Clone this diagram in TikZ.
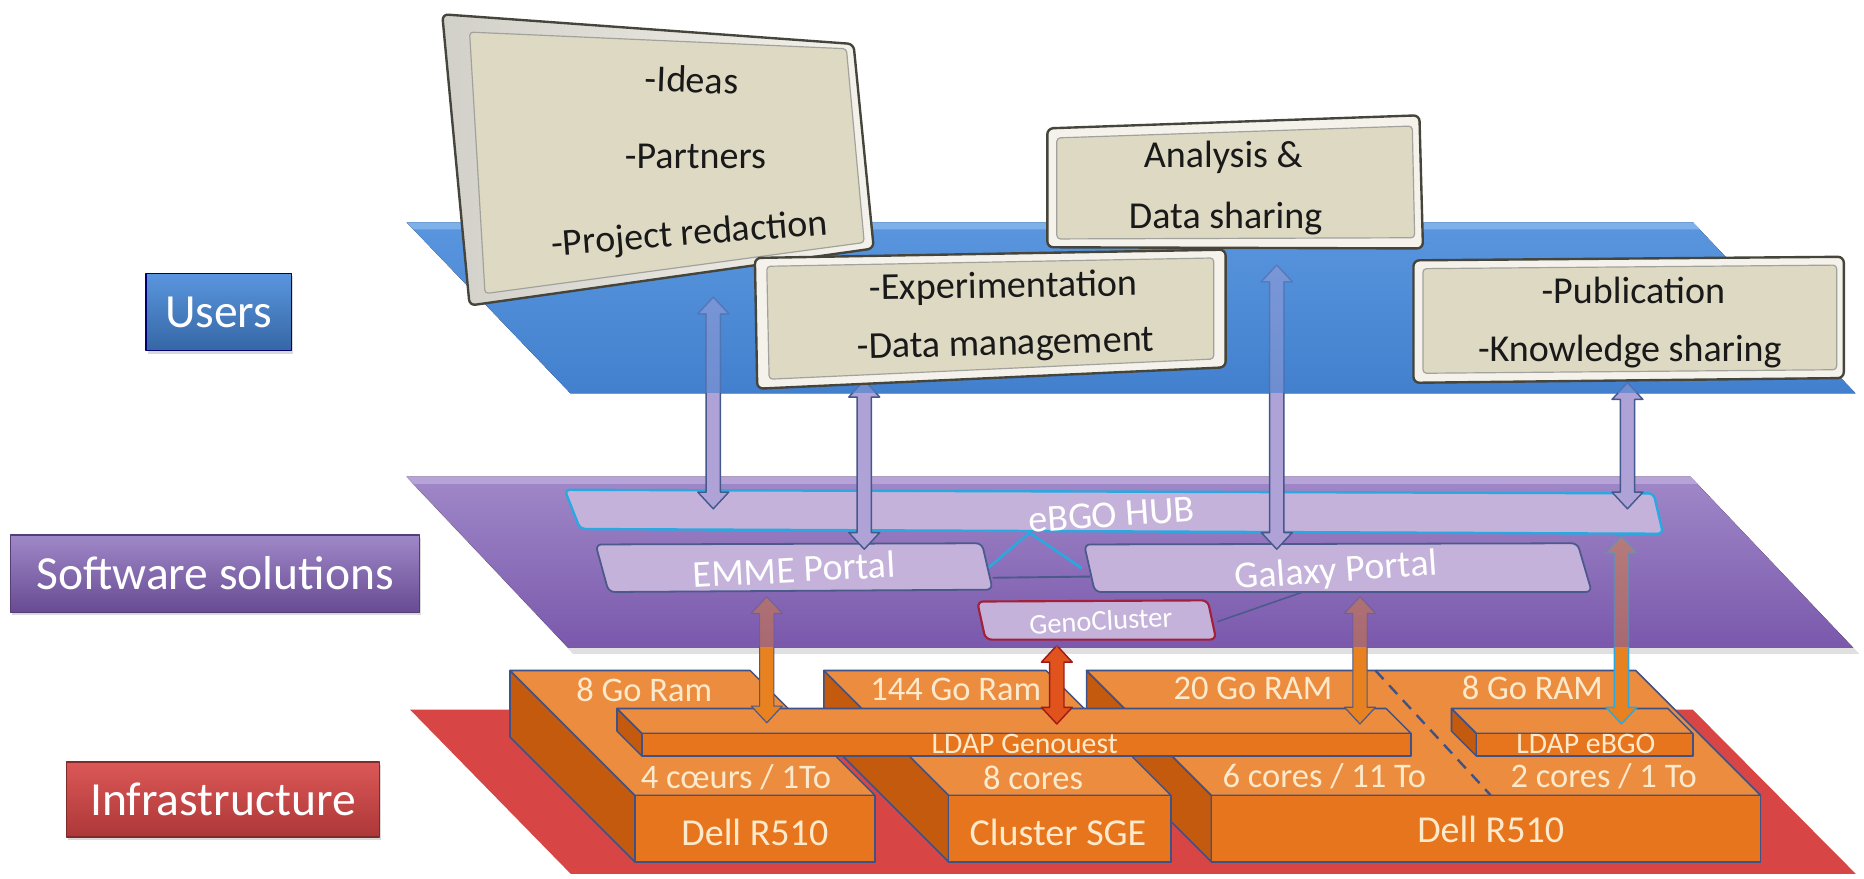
\documentclass[tikz,border=0pt]{standalone}
\usepackage{fontspec}
\setmainfont{Carlito}
\usetikzlibrary{calc,shadows}
\newcommand{\setfs}[1]{\fontsize{#1}{#1}\selectfont}

\definecolor{planeblueT}{HTML}{5A96DE}
\definecolor{planeblueB}{HTML}{4280CE}
\definecolor{planebluelip}{HTML}{7EB0EA}
\definecolor{planepurT}{HTML}{9F88C8}
\definecolor{planepurB}{HTML}{7A58AC}
\definecolor{planepurlip}{HTML}{B7A3D8}
\definecolor{planered}{HTML}{D84545}
\definecolor{blocktopc}{HTML}{EC8C3E}
\definecolor{blockfrontc}{HTML}{E7751D}
\definecolor{blocksidec}{HTML}{C45A0E}
\definecolor{blockedgec}{HTML}{3E5287}
\definecolor{blocktextc}{HTML}{FDE9CB}
\definecolor{lavfill}{HTML}{C4B2DB}
\definecolor{portaledge}{HTML}{4B5A8B}
\definecolor{hubcyan}{HTML}{2AA8E0}
\definecolor{genored}{HTML}{A3203A}
\definecolor{arrowlav}{HTML}{AEA2D6}
\definecolor{arrowedge}{HTML}{44588C}
\definecolor{infraorange}{HTML}{E8811F}
\definecolor{genoarrow}{HTML}{E0531C}
\definecolor{genoarrowedge}{HTML}{9E1B1B}
\definecolor{boxbeige}{HTML}{DDD9C3}
\definecolor{boxrim}{HTML}{F4F2EA}
\definecolor{boxedge}{HTML}{45453C}

\tikzset{
  blockline/.style={draw=blockedgec, line width=1.3},
  sideface/.style={fill=blocksidec, blockline},
  topface/.style={fill=blocktopc, blockline},
  frontface/.style={fill=blockfrontc, blockline},
  blocklabel/.style={text=blocktextc, font=\setfs{29}, inner sep=0},
  serverlabel/.style={text=blocktextc, font=\setfs{32}, inner sep=0},
  ldaplabel/.style={text=blocktextc, font=\setfs{25}, inner sep=0},
  infarrow/.style={fill=infraorange, draw=portaledge, line width=1},
  genoarrowstyle/.style={fill=genoarrow, draw=genoarrowedge, line width=1.2},
  hubarrow/.style={fill=infraorange, draw=hubcyan, line width=1.2},
  toparrow/.style={fill=arrowlav, draw=arrowedge, line width=1.2},
  faded/.style={opacity=0.42},
  hubbox/.style={fill=lavfill, draw=hubcyan, line width=2, rounded corners=4},
  portalbox/.style={fill=lavfill, draw=portaledge, line width=1.5, rounded corners=5},
  genobox/.style={fill=lavfill, draw=genored, line width=1.8, rounded corners=5},
  softlabel/.style={text=white, font=\setfs{32}, inner sep=0},
  beigeouter/.style={draw=boxedge, line width=2, rounded corners=5},
  beigeinner/.style={fill=boxbeige, draw=boxedge!50, line width=1, rounded corners=3},
  beigetext/.style={text=black!90, font=\setfs{32}, inner sep=0},
  layerlabel/.style={text=white, font=\setfs{40}, line width=1, inner sep=0,
    drop shadow={opacity=0.3, shadow xshift=1.5pt, shadow yshift=-2.5pt}},
}

% oblique server block: front face from x=#1 to x=#2
\newcommand{\infrablock}[2]{%
  \path[sideface] (#1-105,564) -- (#1,669) -- (#1,725) -- (#1-105,620) -- cycle;
  \path[topface] (#1-105,564) -- (#2-105,564) -- (#2,669) -- (#1,669) -- cycle;
  \path[frontface] (#1,669) rectangle (#2,725);}

% thin directory bar lying on the servers
\newcommand{\ldapbar}[2]{%
  \path[sideface] (#1-21,596) -- (#1,617) -- (#1,636) -- (#1-21,615) -- cycle;
  \path[topface] (#1-21,596) -- (#2-21,596) -- (#2,617) -- (#1,617) -- cycle;
  \path[frontface] (#1,617) rectangle (#2,636);}

% vertical double-headed block arrow between two named points
\newcommand{\vertarrow}[3][]{%
  \path[#1] (#2) -- ($(#2)+(13,14)$) -- ($(#2)+(6,14)$) -- ($(#3)+(6,-14)$)
    -- ($(#3)+(13,-14)$) -- (#3) -- ($(#3)+(-13,-14)$) -- ($(#3)+(-6,-14)$)
    -- ($(#2)+(-6,14)$) -- ($(#2)+(-13,14)$) -- cycle;}

\begin{document}
\begin{tikzpicture}[x=1pt,y=-1pt,line join=round]
\useasboundingbox (0,0) rectangle (1568,739);

% ---------------- infrastructure layer ----------------
\fill[planered] (345,597) -- (1424,597) -- (1561,735) -- (480,735) -- cycle;
\infrablock{1019}{1481}
\draw[blockedgec, line width=2, dash pattern=on 10pt off 7pt] (1157,564) -- (1254,669);
\infrablock{798}{985}
\infrablock{534}{736}
\ldapbar{1242}{1424}
\ldapbar{540}{1187}

\node[blocklabel] (ram1) at (542,580) {8 Go Ram};
\node[blocklabel] (ram2) at (804,580) {144 Go Ram};
\node[blocklabel] (ram3) at (1054,579) {20 Go RAM};
\node[blocklabel] (ram4) at (1289,579) {8 Go RAM};
\node[blocklabel] (cpu1) at (619,654) {4 cœurs / 1To};
\node[blocklabel] (cpu2) at (869,654) {8 cores};
\node[blocklabel] (cpu3) at (1114,653) {6 cores / 11 To};
\node[blocklabel] (cpu4) at (1349,653) {2 cores / 1 To};
\node[serverlabel] (srv1) at (635,700) {Dell R510};
\node[serverlabel] (srv2) at (890,700) {Cluster SGE};
\node[serverlabel] (srv3) at (1254,698) {Dell R510};
\node[ldaplabel] (ldapg) at (862,626) {LDAP Genouest};
\node[ldaplabel] (ldape) at (1334,626) {LDAP eBGO};

% ---------------- software layer ----------------
\fill[black, opacity=0.12] (345,405) -- (1426,405) -- (1564,550) -- (482,550) -- cycle;
\fill[top color=planepurT, bottom color=planepurB] (342,401) -- (1422,401) -- (1559,545) -- (478,545) -- cycle;
\fill[planepurlip] (342,401) -- (1422,401) -- (1428,407) -- (348,407) -- cycle;

\coordinate (b1t) at (645,502);  \coordinate (b1b) at (645,608);
\coordinate (b2t) at (889,543);  \coordinate (b2b) at (889,609);
\coordinate (b3t) at (1144,502); \coordinate (b3b) at (1144,609);
\coordinate (b4t) at (1364,451); \coordinate (b4b) at (1364,609);
% arrow parts lying on the software plane look tinted
\begin{scope}
  \clip (0,0) rectangle (1568,545);
  \vertarrow[infarrow, faded]{b1t}{b1b}
  \vertarrow[genoarrowstyle, faded]{b2t}{b2b}
  \vertarrow[infarrow, faded]{b3t}{b3b}
  \vertarrow[hubarrow, faded]{b4t}{b4b}
\end{scope}
\begin{scope}
  \clip (0,545) rectangle (1568,739);
  \vertarrow[infarrow]{b1t}{b1b}
  \vertarrow[genoarrowstyle]{b2t}{b2b}
  \vertarrow[infarrow]{b3t}{b3b}
  \vertarrow[hubarrow]{b4t}{b4b}
\end{scope}

\coordinate (emmeR) at (831,478);
\coordinate (hubApex) at (866,448);
\coordinate (galL) at (910,478);
\coordinate (emmeR2) at (835,486);
\coordinate (galL2) at (917,485);
\coordinate (genoR) at (1024,523);
\coordinate (galB) at (1096,498);
\draw[hubcyan, line width=2.2] (emmeR) -- (hubApex) -- (galL);
\draw[portaledge, line width=1.6] (emmeR2) -- (galL2);
\draw[portaledge, line width=1.3] (genoR) -- (galB);

\path[hubbox] (475,412) -- (1391,415) -- (1399,449) -- (488,445) -- cycle;
\path[portalbox] (501,458) -- (826,457) -- (835,496) -- (512,498) -- cycle;
\path[portalbox] (912,458) -- (1327,457) -- (1339,498) -- (921,498) -- cycle;
\path[genobox] (822,506) -- (1016,505) -- (1023,538) -- (829,538) -- cycle;

\node[softlabel, rotate=4] (hub) at (935,433) {eBGO HUB};
\node[softlabel, rotate=3] (emme) at (668,479) {EMME Portal};
\node[softlabel, rotate=4] (galaxy) at (1124,481) {Galaxy Portal};
\node[softlabel, font=\setfs{24}, rotate=3] (geno) at (926,522) {GenoCluster};

% ---------------- users layer ----------------
\fill[top color=planeblueT, bottom color=planeblueB] (342,187) -- (1424,187) -- (1561,331) -- (480,331) -- cycle;
\fill[planebluelip] (342,187) -- (1424,187) -- (1430,193) -- (348,193) -- cycle;

\coordinate (a1t) at (600,250);  \coordinate (a1b) at (600,428);
\coordinate (a2t) at (727,320);  \coordinate (a2b) at (727,462);
\coordinate (a3t) at (1074,223); \coordinate (a3b) at (1074,462);
\coordinate (a4t) at (1369,322); \coordinate (a4b) at (1369,428);
% arrow parts lying on the users plane look faded
\begin{scope}
  \clip (0,0) rectangle (1568,331);
  \vertarrow[toparrow, faded]{a1t}{a1b}
  \vertarrow[toparrow, faded]{a2t}{a2b}
  \vertarrow[toparrow, faded]{a3t}{a3b}
  \vertarrow[toparrow, faded]{a4t}{a4b}
\end{scope}
\begin{scope}
  \clip (0,331) rectangle (1568,739);
  \vertarrow[toparrow]{a1t}{a1b}
  \vertarrow[toparrow]{a2t}{a2b}
  \vertarrow[toparrow]{a3t}{a3b}
  \vertarrow[toparrow]{a4t}{a4b}
\end{scope}

% user activity panels
\path[beigeouter, left color=black!14!boxrim, right color=boxrim] (372,12) -- (718,37) -- (735,209) -- (395,257) -- cycle;
\path[beigeinner] (395,27) -- (712,41) -- (727,204) -- (408,247) -- cycle;
\node[beigetext, rotate=-2] (ideas) at (582,67) {-Ideas};
\node[beigetext] (partners) at (585,132) {-Partners};
\node[beigetext, rotate=4.5] (redaction) at (580,198) {-Project redaction};

\path[beigeouter, fill=boxrim] (635,217) -- (1031,210) -- (1031,309) -- (637,327) -- cycle;
\path[beigeinner] (645,224) -- (1021,217) -- (1021,302) -- (647,319) -- cycle;
\node[beigetext, rotate=1] (exper) at (844,242) {-Experimentation};
\node[beigetext, rotate=1.5] (datamgmt) at (846,291) {-Data management};

\path[beigeouter, fill=boxrim] (881,108) -- (1194,97) -- (1197,209) -- (881,208) -- cycle;
\path[beigeinner] (889,116) -- (1188,106) -- (1190,200) -- (889,201) -- cycle;
\node[beigetext] (analysis) at (1029,132) {Analysis \&};
\node[beigetext] (datashare) at (1031,184) {Data sharing};

\path[beigeouter, fill=boxrim] (1189,219) -- (1551,216) -- (1551,318) -- (1189,322) -- cycle;
\path[beigeinner] (1197,226) -- (1545,223) -- (1545,311) -- (1197,314) -- cycle;
\node[beigetext] (publi) at (1374,244) {-Publication};
\node[beigetext] (knowledge) at (1371,296) {-Knowledge sharing};

% ---------------- layer captions ----------------
\node[layerlabel, draw=blue!45!black, top color=planeblueT, bottom color=planeblueB!80!black,
      minimum width=122.5, minimum height=65] (users) at (184,262.5) {Users};
\node[layerlabel, draw=planepurB!70!black, top color=planepurT, bottom color=planepurB!85!black,
      minimum width=344, minimum height=65] (software) at (181,482.5) {Software solutions};
\node[layerlabel, draw=planered!60!black, top color=planered!90!white, bottom color=planered!80!black,
      minimum width=263, minimum height=63] (infra) at (187.5,672.5) {Infrastructure};
\end{tikzpicture}
\end{document}
